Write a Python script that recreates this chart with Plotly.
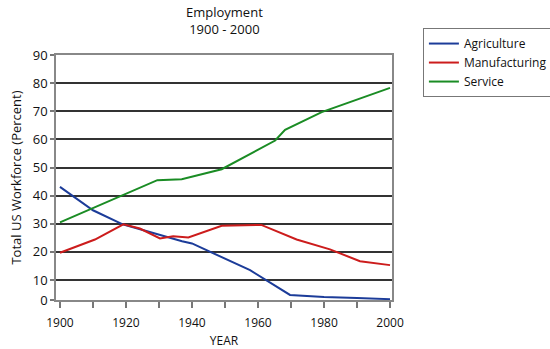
import plotly.graph_objects as go

# Data (percent of total US workforce)
agri_years = [1900, 1910, 1919, 1924, 1933, 1937, 1940, 1951, 1957.6, 1969.7, 1980, 1990, 2000]
agri_vals = [43.1, 34.8, 29.8, 28.1, 25.1, 23.8, 23.0, 17.1, 13.5, 4.7, 4.0, 3.6, 3.2]

manu_years = [1900, 1910.6, 1919.2, 1924.2, 1930.3, 1934.3, 1938.9, 1949, 1961, 1971.7, 1981.8, 1990.9, 2000]
manu_vals = [19.7, 24.4, 29.8, 28.3, 24.8, 25.6, 25.1, 29.3, 29.6, 24.4, 20.9, 16.7, 15.3]

serv_years = [1900, 1913, 1929.5, 1936.9, 1949, 1965.2, 1968.2, 1979.3, 2000]
serv_vals = [30.5, 37.2, 45.5, 45.8, 49.4, 59.6, 63.4, 69.7, 78.3]

series_names = ["Agriculture", "Manufacturing", "Service"]
series_colors = ["#1c3c99", "#cc1c1c", "#1a8c24"]

y_tick_vals = [2.9, 10, 20, 30, 40, 50, 60, 70, 80, 90]
y_tick_text = ["0", "10", "20", "30", "40", "50", "60", "70", "80", "90"]

FONT = "Open Sans"

fig = go.Figure()
for name, xs, ys, col in zip(series_names,
                             [agri_years, manu_years, serv_years],
                             [agri_vals, manu_vals, serv_vals],
                             series_colors):
    fig.add_trace(go.Scatter(x=xs, y=ys, mode="lines", name=name,
                             line=dict(color=col, width=2)))

fig.update_layout(
    width=550, height=349,
    margin=dict(l=56, r=158, t=55, b=49, autoexpand=False),
    paper_bgcolor="white", plot_bgcolor="white",
    font=dict(family=FONT, size=12, color="#111"),
    legend=dict(x=1.092, y=1.11, xanchor="left", yanchor="top",
                bordercolor="#777", borderwidth=1, bgcolor="white",
                font=dict(family=FONT, size=12, color="#111"),
                itemwidth=30, tracegroupgap=0),
    showlegend=True,
)
fig.add_annotation(text="Employment<br>1900 - 2000", xref="paper", yref="paper",
                   x=0.5, y=1.062, xanchor="center", yanchor="bottom", showarrow=False,
                   font=dict(family=FONT, size=13, color="#111"))
fig.update_xaxes(
    range=[1898.8, 2000.6], tickmode="linear", tick0=1900, dtick=20,
    ticks="outside", ticklen=6, tickcolor="#777", tickwidth=1.5,
    minor=dict(ticks="outside", dtick=10, tick0=1900, ticklen=6, tickcolor="#777", tickwidth=1.5),
    showgrid=False, showline=True, linecolor="#888", linewidth=1.5, mirror=True,
    title=dict(text="YEAR", font=dict(family=FONT, size=12), standoff=10),
    tickfont=dict(family=FONT, size=12), zeroline=False, ticklabelstandoff=5,
)
fig.update_yaxes(
    range=[2.9, 90], tickmode="array", tickvals=y_tick_vals, ticktext=y_tick_text,
    ticks="outside", ticklen=4, tickcolor="#777", tickwidth=1.5,
    showgrid=True, gridcolor="#333", gridwidth=1.5,
    showline=True, linecolor="#888", linewidth=1.5, mirror=True,
    title=dict(text="Total US Workforce (Percent)", font=dict(family=FONT, size=13), standoff=8),
    tickfont=dict(family=FONT, size=13), zeroline=False,
)

fig.write_html("out.html")
